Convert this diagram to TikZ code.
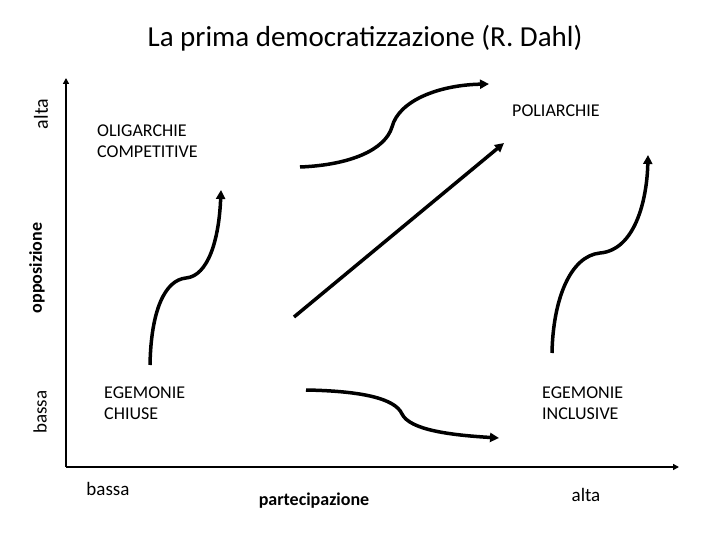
\documentclass[tikz,border=0pt]{standalone}
\usepackage{fontspec}
\setmainfont{Carlito}
\usetikzlibrary{arrows.meta}
\begin{document}
\begin{tikzpicture}[x=1pt,y=-1pt,
  axis/.style={line width=2.5pt,-{Triangle[length=6pt,width=6pt]}},
  flow/.style={line width=3.5pt,-{Triangle[length=9pt,width=9pt]}},
  lbl/.style={font=\fontsize{18}{21.5}\selectfont,align=left,inner sep=0pt,anchor=west},
  axlbl/.style={font=\fontsize{19}{23}\selectfont,inner sep=0pt},
  axname/.style={font=\fontsize{18}{21}\selectfont\bfseries,inner sep=0pt}]
\useasboundingbox (0,0) rectangle (720,540);
\fill[white] (0,0) rectangle (720,540);
% title
\node[font=\fontsize{29}{34}\selectfont,inner sep=0pt] (title) at (365,38) {La prima democratizzazione (R. Dahl)};
% axes
\coordinate (o) at (66,467);
\coordinate (ytop) at (66,78);
\coordinate (xend) at (679,467);
\draw[axis] (o) -- (ytop);
\draw[axis] (o) -- (xend);
% axis labels
\node[axlbl,rotate=90,font=\fontsize{20}{24}\selectfont] (yalta) at (41,114) {alta};
\node[axlbl,rotate=90] (ybassa) at (40,412) {bassa};
\node[axname,rotate=90] (yname) at (37,268) {opposizione};
\node[axlbl] (xbassa) at (108,489) {bassa};
\node[axlbl] (xalta) at (586,495) {alta};
\node[axname] (xname) at (314,501) {partecipazione};
% regime labels
\node[lbl] (oligarchie) at (97,141) {OLIGARCHIE\\COMPETITIVE};
\node[lbl] (poliarchie) at (512,111) {POLIARCHIE};
\node[lbl] (egchiuse) at (104,403) {EGEMONIE\\CHIUSE};
\node[lbl] (eginclusive) at (542,403) {EGEMONIE\\INCLUSIVE};
% paths
\coordinate (a1) at (150,365); \coordinate (a2) at (221,190);
\coordinate (b1) at (300,167); \coordinate (b2) at (489,84);
\coordinate (c1) at (294,317); \coordinate (c2) at (504,143);
\coordinate (d1) at (306,390); \coordinate (d2) at (499,438);
\coordinate (e1) at (552,353); \coordinate (e2) at (648,155);
\draw[flow] (a1) .. controls (151,310) and (165,280) .. (186,278) .. controls (208,276) and (219,240) .. (a2);
\draw[flow] (b1) .. controls (350,165) and (385,150) .. (392,127) .. controls (399,100) and (440,85) .. (b2);
\draw[flow] (c1) -- (c2);
\draw[flow] (d1) .. controls (360,391) and (395,398) .. (402,414) .. controls (410,430) and (450,435) .. (d2);
\draw[flow] (e1) .. controls (553,300) and (570,256) .. (600,253) .. controls (635,250) and (647,200) .. (e2);
\end{tikzpicture}
\end{document}
